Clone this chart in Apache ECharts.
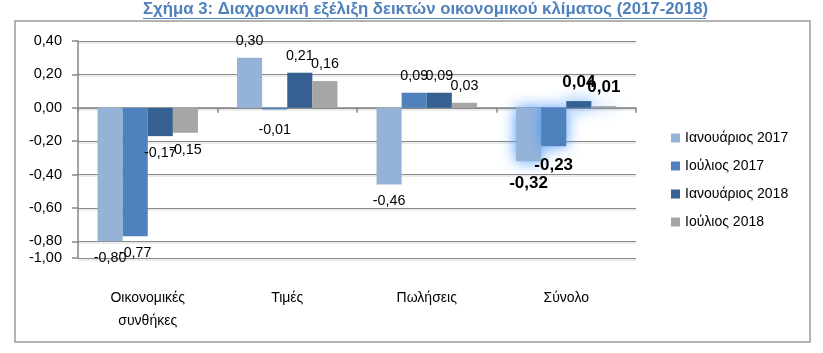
<!DOCTYPE html>
<html>
<head>
<meta charset="utf-8">
<script src="https://cdn.jsdelivr.net/npm/echarts@6/dist/echarts.min.js"></script>
<style>
html,body{margin:0;padding:0;background:#fff;}
#chart{width:823px;height:353px;}
</style>
</head>
<body>
<div id="chart"></div>
<script>
const titleText = 'Σχήμα 3: Διαχρονική εξέλιξη δεικτών οικονομικού κλίματος (2017-2018)';
const categories = ['Οικονομικές\nσυνθήκες', 'Τιμές', 'Πωλήσεις', 'Σύνολο'];
const seriesNames = ['Ιανουάριος 2017', 'Ιούλιος 2017', 'Ιανουάριος 2018', 'Ιούλιος 2018'];
const jan2017 = [-0.80, 0.30, -0.46, -0.32];
const jul2017 = [-0.77, -0.01, 0.09, -0.23];
const jan2018 = [-0.17, 0.21, 0.09, 0.04];
const jul2018 = [-0.15, 0.16, 0.03, 0.01];
const yMin = -0.9;      // axis bottom (labelled -1,00 in the original)
const yMax = 0.4;
const yBottomLabel = '-1,00';

const FONT = '"Liberation Sans", Arial, sans-serif';
const colors = ['#95b3d7', '#4f81bd', '#376092', '#a6a6a6'];
const highlightIndex = 3; // "Σύνολο" drawn with glow and bold labels
const labelDistance = { '1-1': 14, '0-3': 14, '1-3': 11, '2-3': 10, '3-3': 10 };

const fmt = v => v.toFixed(2).replace('.', ',');

function buildSeries(name, values, si) {
  return {
    name: name,
    type: 'bar',
    xAxisIndex: 0,
    barGap: '0%',
    barCategoryGap: '28%',
    itemStyle: { color: colors[si] },
    data: values.map((v, ci) => {
      const key = si + '-' + ci;
      const item = {
        value: v,
        label: {
          show: true,
          position: v < 0 ? 'bottom' : 'top',
          distance: labelDistance[key] !== undefined ? labelDistance[key] : 10,
          formatter: p => fmt(p.value),
          color: '#000',
          fontFamily: FONT,
          fontSize: 14.3
        }
      };
      if (ci === highlightIndex) {
        item.label.fontWeight = 'bold';
        item.label.fontSize = 17;
        item.itemStyle = { color: colors[si], shadowBlur: 15, shadowColor: 'rgba(70,150,255,1)' };
      }
      return item;
    })
  };
}

const chart = echarts.init(document.getElementById('chart'), null, { renderer: 'canvas' });
chart.setOption({
  animation: false,
  backgroundColor: '#fff',
  title: {
    text: titleText,
    left: 143,
    top: 1,
    padding: 0,
    textStyle: { fontFamily: FONT, fontSize: 16.8, fontWeight: 'bold', color: '#4f81bd' }
  },
  graphic: [
    { type: 'line', shape: { x1: 143, y1: 18.5, x2: 706, y2: 18.5 }, style: { stroke: '#4f81bd', lineWidth: 1 }, silent: true },
    { type: 'rect', shape: { x: 15, y: 21, width: 795, height: 321 }, style: { fill: 'none', stroke: '#9a9a9a', lineWidth: 1.5 }, silent: true, z: -1 }
  ],
  legend: {
    orient: 'vertical',
    left: 666,
    top: 126,
    itemWidth: 9,
    itemHeight: 9,
    itemGap: 14,
    icon: 'rect',
    data: seriesNames,
    textStyle: { fontFamily: FONT, fontSize: 14, color: '#000' }
  },
  grid: { left: 78, right: 187, top: 41, bottom: 95, containLabel: false },
  xAxis: [
    {
      type: 'category',
      data: categories,
      position: 'bottom',
      axisLine: { onZero: true, lineStyle: { color: '#868686', width: 1.5 } },
      axisTick: { show: true, length: 5, lineStyle: { color: '#868686', width: 1.5 } },
      axisLabel: { show: false },
      splitLine: { show: false }
    },
    {
      type: 'category',
      data: categories,
      position: 'bottom',
      axisLine: { show: false, onZero: false },
      axisTick: { show: false },
      axisLabel: { show: true, margin: 29, fontFamily: FONT, fontSize: 14, lineHeight: 23, color: '#000' },
      splitLine: { show: false }
    }
  ],
  yAxis: {
    type: 'value',
    min: yMin,
    max: yMax,
    splitNumber: 7,
    axisLine: { show: true, lineStyle: { color: '#868686', width: 1.5 } },
    axisTick: { show: true, length: 6, lineStyle: { color: '#868686', width: 1.5 } },
    axisLabel: {
      margin: 16,
      showMinLabel: true,
      showMaxLabel: true,
      fontFamily: FONT, fontSize: 14.5, color: '#000',
      formatter: v => (Math.abs(v - yMin) < 1e-6 ? yBottomLabel : fmt(v))
    },
    splitLine: { show: true, lineStyle: { color: '#8a8a8a', width: 1, shadowColor: 'rgba(0,0,0,0.15)', shadowOffsetY: 1.5, shadowBlur: 0 } }
  },
  series: [
    buildSeries(seriesNames[0], jan2017, 0),
    buildSeries(seriesNames[1], jul2017, 1),
    buildSeries(seriesNames[2], jan2018, 2),
    buildSeries(seriesNames[3], jul2018, 3)
  ]
});
</script>
</body>
</html>
